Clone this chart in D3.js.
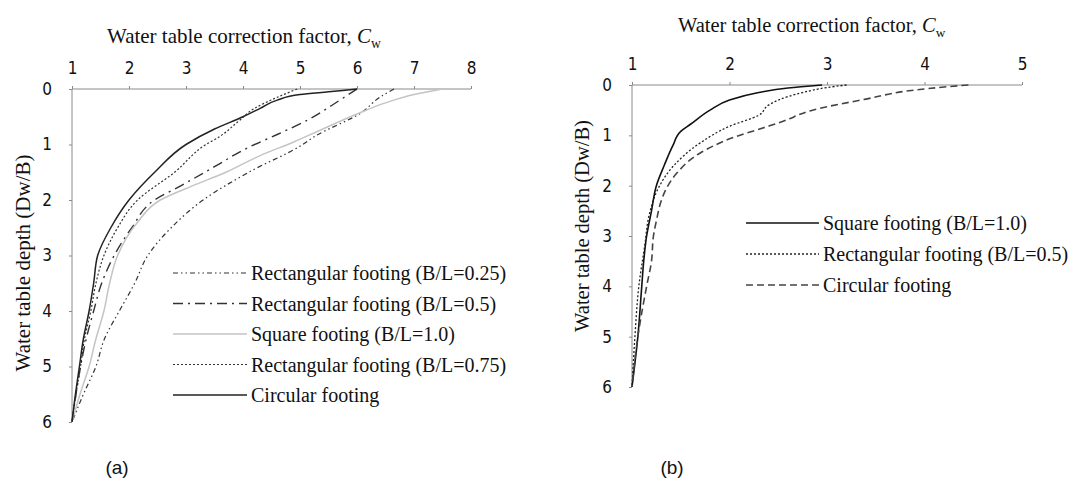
<!DOCTYPE html>
<html>
<head>
<meta charset="utf-8">
<script src="https://cdn.jsdelivr.net/npm/d3@7"></script>
<style>
body { margin: 0; background: #fff; }
svg text { font-family: "Liberation Serif", "Times New Roman", serif; fill: #111; }
.tick text { font-family: "Liberation Sans Narrow", "DejaVu Sans Condensed", sans-serif; }
</style>
</head>
<body>
<div id="chart"></div>
<script>
var svgWidth = 1071;
var svgHeight = 488;

// chart (a) - depth values (Dw/B) and Cw for each footing
var depthA25 = [0, 0.15, 0.43, 0.86, 1.0, 1.5, 2.0, 2.5, 3.0, 3.5, 4.0, 4.5, 5.0, 5.5, 6.0];
var cwA25 = [6.65, 6.4, 6.07, 5.25, 5.05, 4.1, 3.3, 2.74, 2.33, 2.1, 1.83, 1.57, 1.42, 1.2, 1.0];

var depthA50 = [0, 0.2, 0.55, 0.82, 1.05, 1.4, 1.75, 2.0, 2.5, 3.0, 3.5, 4.0, 4.5, 5.0, 5.5, 6.0];
var cwA50 = [6.0, 5.7, 5.15, 4.6, 4.1, 3.5, 2.9, 2.45, 2.05, 1.74, 1.52, 1.38, 1.25, 1.15, 1.07, 1.0];

var depthASq = [0, 0.1, 0.25, 0.45, 0.72, 0.95, 1.2, 1.5, 1.75, 2.0, 2.4, 3.0, 3.5, 4.0, 4.5, 5.0, 5.5, 6.0];
var cwASq = [7.5, 7.0, 6.5, 6.0, 5.4, 4.9, 4.3, 3.7, 3.1, 2.55, 2.15, 1.8, 1.66, 1.56, 1.42, 1.3, 1.14, 1.0];

var depthA75 = [0, 0.15, 0.35, 0.6, 0.85, 1.0, 1.5, 2.0, 2.5, 3.0, 3.5, 4.0, 4.5, 5.0, 5.5, 6.0];
var cwA75 = [4.95, 4.6, 4.2, 3.9, 3.6, 3.35, 2.8, 2.15, 1.8, 1.56, 1.42, 1.33, 1.22, 1.15, 1.07, 1.0];

var depthACirc = [0, 0.05, 0.1, 0.2, 0.35, 0.5, 0.72, 1.0, 1.5, 2.0, 2.5, 3.0, 3.5, 4.0, 4.5, 5.0, 5.5, 6.0];
var cwACirc = [6.0, 5.5, 5.0, 4.6, 4.3, 4.0, 3.5, 3.0, 2.45, 2.0, 1.68, 1.45, 1.38, 1.3, 1.2, 1.13, 1.06, 1.0];

// chart (b)
var depthBSq = [0, 0.06, 0.15, 0.3, 0.5, 0.78, 0.92, 1.2, 1.6, 2.0, 2.5, 3.0, 3.5, 4.0, 5.0, 6.0];
var cwBSq = [2.95, 2.6, 2.3, 2.0, 1.8, 1.6, 1.5, 1.42, 1.33, 1.25, 1.2, 1.15, 1.12, 1.1, 1.06, 1.0];

var depthBRect = [0, 0.05, 0.15, 0.3, 0.4, 0.6, 0.82, 1.15, 1.62, 2.05, 2.55, 3.2, 4.0, 5.0, 6.0];
var cwBRect = [3.2, 3.0, 2.75, 2.5, 2.4, 2.3, 2.0, 1.7, 1.42, 1.27, 1.18, 1.13, 1.07, 1.03, 1.0];

var depthBCirc = [0, 0.04, 0.1, 0.28, 0.5, 0.72, 0.83, 1.05, 1.35, 1.75, 2.03, 2.3, 2.7, 3.0, 3.5, 4.0, 5.0, 6.0];
var cwBCirc = [4.45, 4.2, 3.9, 3.4, 2.85, 2.55, 2.38, 2.03, 1.7, 1.46, 1.36, 1.3, 1.25, 1.22, 1.2, 1.15, 1.06, 1.0];

var xTicksA = [1, 2, 3, 4, 5, 6, 7, 8];
var xTicksB = [1, 2, 3, 4, 5];
var yTicks = [0, 1, 2, 3, 4, 5, 6];

var seriesA = [
    {name: "Rectangular footing (B/L=0.25)", depth: depthA25, cw: cwA25, stroke: "#333", width: 1.2, dash: "5,3,1.5,3,1.5,3"},
    {name: "Rectangular footing (B/L=0.5)", depth: depthA50, cw: cwA50, stroke: "#333", width: 1.4, dash: "10,5,2,5"},
    {name: "Square footing (B/L=1.0)", depth: depthASq, cw: cwASq, stroke: "#c4c4c4", width: 1.5, dash: null},
    {name: "Rectangular footing (B/L=0.75)", depth: depthA75, cw: cwA75, stroke: "#333", width: 1.2, dash: "2,2"},
    {name: "Circular footing", depth: depthACirc, cw: cwACirc, stroke: "#222", width: 1.5, dash: null}
];

var seriesB = [
    {name: "Square footing (B/L=1.0)", depth: depthBSq, cw: cwBSq, stroke: "#111", width: 1.6, dash: null},
    {name: "Rectangular footing (B/L=0.5)", depth: depthBRect, cw: cwBRect, stroke: "#222", width: 1.3, dash: "2,2"},
    {name: "Circular footing", depth: depthBCirc, cw: cwBCirc, stroke: "#444", width: 1.6, dash: "7,4"}
];

var svg = d3.select("#chart").append("svg")
    .attr("width", svgWidth)
    .attr("height", svgHeight);

function drawPanel(cfg) {
    var g = svg.append("g");

    var x = d3.scaleLinear().domain(cfg.xDomain).range([cfg.left, cfg.right]);
    var y = d3.scaleLinear().domain([0, 6]).range([cfg.top, cfg.bottom]);

    // top axis
    var topAxis = g.append("g")
        .attr("transform", `translate(0, ${cfg.top})`)
        .call(d3.axisTop(x).tickValues(cfg.xTicks).tickFormat(d3.format("d")).tickSize(3).tickPadding(12));
    topAxis.selectAll("path, line").attr("stroke", "#8a8a8a");
    topAxis.select(".domain").attr("d", `M${cfg.left},0H${cfg.right}`);
    topAxis.selectAll("text").attr("font-size", 17).attr("fill", "#222");

    var leftAxis = g.append("g")
        .attr("transform", `translate(${cfg.left}, 0)`)
        .call(d3.axisLeft(y).tickValues(yTicks).tickFormat(d3.format("d")).tickSize(3).tickPadding(17));
    leftAxis.selectAll("path, line").attr("stroke", "#8a8a8a");
    leftAxis.select(".domain").attr("d", `M0,${cfg.top}V${cfg.bottom}`);
    leftAxis.selectAll("text").attr("font-size", 17).attr("fill", "#222");

    // axis titles
    var title = g.append("text")
        .attr("x", cfg.titleX)
        .attr("y", cfg.titleY)
        .attr("font-size", cfg.titleSize);
    title.append("tspan").text("Water table correction factor, ");
    title.append("tspan").attr("font-style", "italic").text("C");
    title.append("tspan").attr("font-size", cfg.titleSize * 0.65).attr("dy", 5).text("w");

    g.append("text")
        .attr("transform", `translate(${cfg.yLabelX}, ${cfg.yLabelY}) rotate(-90)`)
        .attr("text-anchor", "middle")
        .attr("font-size", cfg.titleSize)
        .text("Water table depth (Dw/B)");

    var line = d3.line()
        .x(d => x(d[0]))
        .y(d => y(d[1]))
        .curve(d3.curveMonotoneY);

    cfg.series.forEach(function(s) {
        var pts = s.depth.map((dv, i) => [s.cw[i], dv]);
        g.append("path")
            .attr("d", line(pts))
            .attr("fill", "none")
            .attr("stroke", s.stroke)
            .attr("stroke-width", s.width)
            .attr("stroke-dasharray", s.dash);
    });

    // legend
    var legend = g.append("g");
    cfg.series.forEach(function(s, i) {
        var ly = cfg.legendY + i * cfg.legendGap;
        legend.append("line")
            .attr("x1", cfg.legendX).attr("x2", cfg.legendX + cfg.legendLen)
            .attr("y1", ly).attr("y2", ly)
            .attr("stroke", s.stroke)
            .attr("stroke-width", s.width)
            .attr("stroke-dasharray", s.dash);
        legend.append("text")
            .attr("x", cfg.legendX + cfg.legendLen + 4)
            .attr("y", ly + 7)
            .attr("font-size", 20)
            .text(s.name);
    });

    svg.append("text")
        .attr("x", cfg.tagX)
        .attr("y", 474)
        .attr("text-anchor", "middle")
        .style("font-family", "Arial, 'Liberation Sans', sans-serif")
        .attr("font-size", 19)
        .text(cfg.tag);
}

drawPanel({
    xDomain: [1, 8], xTicks: xTicksA, series: seriesA,
    left: 72, right: 471, top: 89, bottom: 422,
    titleX: 107, titleY: 43, titleSize: 21, yLabelX: 30, yLabelY: 263,
    legendX: 173, legendY: 273, legendGap: 30.5, legendLen: 74,
    tagX: 117, tag: "(a)"
});

drawPanel({
    xDomain: [1, 5], xTicks: xTicksB, series: seriesB,
    left: 632, right: 1022, top: 85, bottom: 387,
    titleX: 678, titleY: 32, titleSize: 20.5, yLabelX: 589, yLabelY: 226,
    legendX: 746, legendY: 223, legendGap: 31, legendLen: 73,
    tagX: 672, tag: "(b)"
});
</script>
</body>
</html>
